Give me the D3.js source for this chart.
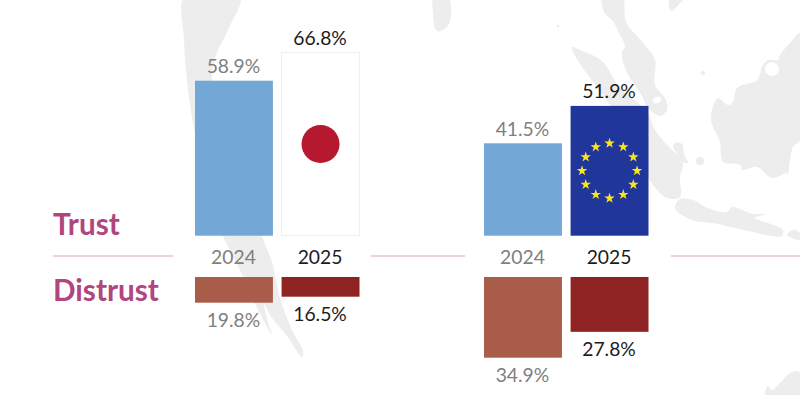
<!DOCTYPE html>
<html>

<head>
    <meta charset="utf-8">
    <title>Trust and distrust</title>
    <style>
    html, body { margin: 0; padding: 0; background: #fff; }
    svg { display: block; font-family: Lato, sans-serif; }
    </style>
</head>

<body>
    <div id="chart"></div>
</body>
<script src="https://d3js.org/d3.v7.min.js"></script>
<script>
    // values
    const countries = ["Japan", "EU"]
    const years = ["2024", "2025"]
    const trustJapan = [58.9, 66.8]
    const trustEU = [41.5, 51.9]
    const distrustJapan = [19.8, 16.5]
    const distrustEU = [34.9, 27.8]
    const rowLabels = ["Trust", "Distrust"]

    const width = 800, height = 395
    const trustBase = 235.7, distrustBase = 277

    const svg = d3.select("#chart").append("svg")
        .attr("width", width)
        .attr("height", height)

    // background map, only a grey outline behind the bars
    const land = [
        [[185,-4],[184,40],[188,90],[196,140],[210,200],[223,236],[240,270],[258,310],[272,335],[268,322],[264,304],[272,318],[287,336],[302,357],[303,351],[292,330],[280,298],[272,262],[262,236],[250,190],[225,120],[212,80],[216,55],[228,30],[240,-4]],
        [[434,-4],[433,14],[436,30],[441,31],[449,24],[451,14],[448,-4]],
        [[602,-4],[604,12],[606,15],[612,20],[620,35],[625,46],[622,52],[623,62],[630,78],[642,96],[648,108],[660,116],[667,110],[666,100],[655,85],[655,60],[647,48],[637,36],[626,22],[622,-4]],
        [[572,47],[574,54],[590,78],[610,105],[630,135],[648,178],[667,198],[680,197],[680,177],[683,162],[672,150],[655,130],[648,113],[635,100],[620,88],[603,62],[590,54],[580,50]],
        [[675,143],[682,144],[684,154],[688,163],[683,162],[678,155],[673,147]],
        [[675,208],[680,199],[693,200],[708,208],[727,212],[732,207],[753,214],[765,214],[755,218],[768,223],[783,230],[782,236],[772,236],[753,232],[730,227],[713,223],[700,222],[685,217]],
        [[787,235],[793,230],[800,233],[800,240],[792,238]],
        [[800,33],[790,43],[780,55],[778,60],[768,60],[763,65],[757,80],[737,88],[733,102],[728,105],[718,98],[712,110],[711,120],[713,127],[720,142],[723,162],[740,165],[742,170],[757,167],[772,178],[787,173],[788,175],[790,160],[793,147],[800,140]],
        [[670,-4],[671,11],[683,0],[688,-4]],
        [[765,398],[768,386],[772,390],[780,383],[790,373],[800,372],[804,398]]
    ]
    const mapLine = d3.line().curve(d3.curveCatmullRomClosed.alpha(0.5))

    const map = svg.append("g").attr("fill", "#ededed")
    map.selectAll("path")
        .data(land)
        .join("path")
        .attr("d", mapLine)
    map.append("circle").attr("cx", 700).attr("cy", 161).attr("r", 4)
    map.append("circle").attr("cx", 703).attr("cy", 73).attr("r", 2.3)
    map.append("circle").attr("cx", 558).attr("cy", 26).attr("r", 1.3)
    map.append("ellipse").attr("cx", 772).attr("cy", 69).attr("rx", 7).attr("ry", 7).attr("fill", "#fff")
    map.append("ellipse").attr("cx", 657).attr("cy", 100).attr("rx", 4.5).attr("ry", 3).attr("fill", "#fff")
        .attr("transform", "rotate(-25 657 100)")

    // scales: the bars in the picture do not start from zero, so the
    // scales are fixed to the heights that were measured
    const xCountry = d3.scalePoint().domain(countries).range([195, 484])
    const xYear = d3.scaleBand().domain(years).range([0, 164.5]).paddingInner(0.1)
    const yTrust = d3.scaleLinear().domain([41.5, 66.8]).range([143.3, 52.3])
    const yDistrust = d3.scaleLinear().domain([16.5, 19.8, 34.9]).range([296.7, 302.7, 357.7])

    const trustColor = d3.scaleOrdinal().domain(years).range(["#73a7d6", "#fff"])
    const distrustColor = d3.scaleOrdinal().domain(years).range(["#a85c49", "#8f2323"])
    const textColor = d3.scaleOrdinal().domain(years).range(["#808080", "#1c1c1c"])

    // flatten into rows for the joins
    const rows = (country, values) => years.map((year, i) => ({ country, year, value: values[i] }))
    const trustRows = rows("Japan", trustJapan).concat(rows("EU", trustEU))
    const distrustRows = rows("Japan", distrustJapan).concat(rows("EU", distrustEU))

    const barX = d => xCountry(d.country) + xYear(d.year)
    const barMid = d => barX(d) + xYear.bandwidth() / 2

    // trust bars
    svg.append("g").selectAll("rect")
        .data(trustRows)
        .join("rect")
        .attr("x", barX)
        .attr("y", d => yTrust(d.value))
        .attr("width", xYear.bandwidth())
        .attr("height", d => trustBase - yTrust(d.value))
        .attr("fill", d => d.country == "EU" && d.year == "2025" ? "#20369b" : trustColor(d.year))
        .attr("stroke", d => d.country == "Japan" && d.year == "2025" ? "#eeeeee" : "none")

    // japan flag disc
    const japan = trustRows.find(d => d.country == "Japan" && d.year == "2025")
    svg.append("circle")
        .attr("cx", barMid(japan))
        .attr("cy", (yTrust(japan.value) + trustBase) / 2)
        .attr("r", 19)
        .attr("fill", "#b5182f")

    // eu flag stars
    const eu = trustRows.find(d => d.country == "EU" && d.year == "2025")
    const euX = barMid(eu), euY = (yTrust(eu.value) + trustBase) / 2
    svg.append("g").selectAll("path")
        .data(d3.range(12))
        .join("path")
        .attr("d", d3.symbol(d3.symbolStar, 34))
        .attr("transform", i => {
            const a = i / 12 * 2 * Math.PI
            return `translate(${euX + 27.5 * Math.sin(a)},${euY - 27.5 * Math.cos(a)})`
        })
        .attr("fill", "#f9e51c")

    // distrust bars
    svg.append("g").selectAll("rect")
        .data(distrustRows)
        .join("rect")
        .attr("x", barX)
        .attr("y", distrustBase)
        .attr("width", xYear.bandwidth())
        .attr("height", d => yDistrust(d.value) - distrustBase)
        .attr("fill", d => distrustColor(d.year))

    // value labels
    const labels = svg.append("g")
        .attr("font-size", 19.3)
        .attr("text-anchor", "middle")

    labels.selectAll(".trust")
        .data(trustRows)
        .join("text")
        .attr("class", "trust")
        .attr("x", d => barMid(d) - 0.5)
        .attr("y", d => yTrust(d.value) - 7.5)
        .attr("fill", d => textColor(d.year))
        .text(d => d.value.toFixed(1) + "%")

    labels.selectAll(".distrust")
        .data(distrustRows)
        .join("text")
        .attr("class", "distrust")
        .attr("x", d => barMid(d) - 0.5)
        .attr("y", d => yDistrust(d.value) + 24.5)
        .attr("fill", d => textColor(d.year))
        .text(d => d.value.toFixed(1) + "%")

    // year labels
    labels.selectAll(".year")
        .data(trustRows)
        .join("text")
        .attr("class", "year")
        .attr("x", d => barMid(d) - 0.5)
        .attr("y", 264)
        .attr("fill", d => textColor(d.year))
        .text(d => d.year)

    // row labels and divider
    svg.append("g").selectAll("line")
        .data([[53, 173], [371, 465], [671, 800]])
        .join("line")
        .attr("x1", d => d[0])
        .attr("x2", d => d[1])
        .attr("y1", 256)
        .attr("y2", 256)
        .attr("stroke", "#dfa6c6")
        .attr("stroke-width", 1.2)

    svg.append("g").selectAll("text")
        .data(rowLabels)
        .join("text")
        .attr("x", 53)
        .attr("y", (d, i) => i == 0 ? 235 : 301)
        .attr("font-size", 29.7)
        .attr("font-weight", 700)
        .attr("fill", "#b0457f")
        .text(d => d)
</script>

</html>
